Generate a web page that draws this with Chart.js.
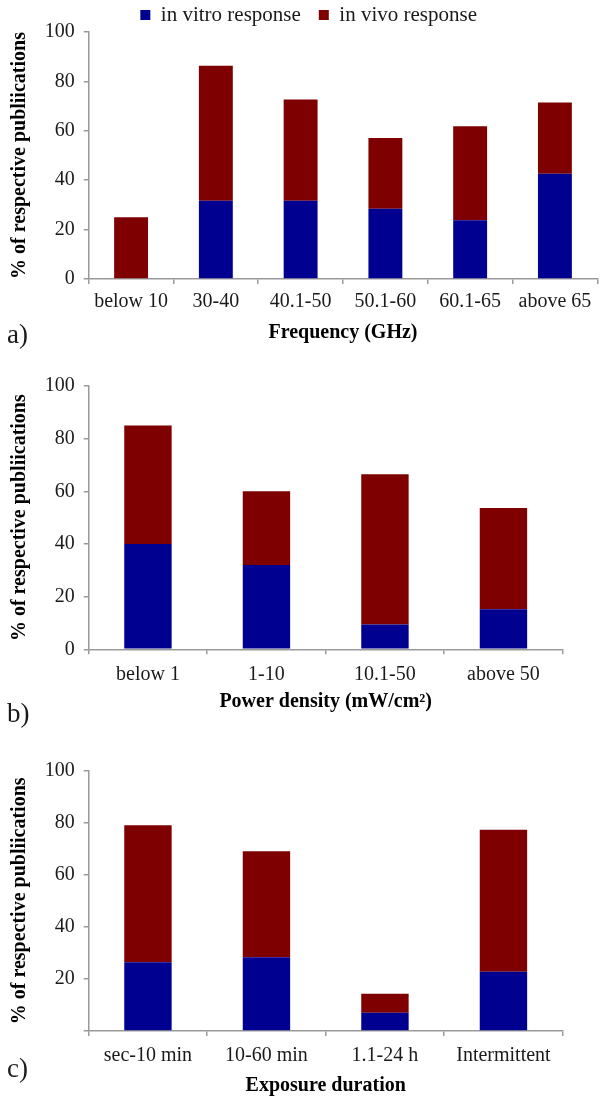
<!DOCTYPE html>
<html>
<head>
<meta charset="utf-8">
<script src="https://cdn.jsdelivr.net/npm/chart.js@4.4.1/dist/chart.umd.min.js"></script>
<style>
  html, body { margin: 0; padding: 0; background: #fff; }
  body { width: 600px; height: 1097px; position: relative; overflow: hidden; }
  canvas { position: absolute; left: 0; }
</style>
</head>
<body>
<canvas id="chartA" width="600" height="352" style="top:0px"></canvas>
<canvas id="chartB" width="600" height="380" style="top:352px"></canvas>
<canvas id="chartC" width="600" height="365" style="top:732px"></canvas>
<script>
// ---- data ----
const seriesNames = ['in vitro response', 'in vivo response'];
const yTitle = '% of respective publiications';

const categoriesA = ['below 10', '30-40', '40.1-50', '50.1-60', '60.1-65', 'above 65'];
const inVitroA = [0, 31.7, 31.7, 28.4, 23.8, 42.6];
const inVivoA  = [25, 54.6, 41.0, 28.7, 38.0, 28.9];
const xTitleA = 'Frequency (GHz)';

const categoriesB = ['below 1', '1-10', '10.1-50', 'above 50'];
const inVitroB = [40, 32, 9.4, 15.2];
const inVivoB  = [45, 28, 57.1, 38.5];
const xTitleB = 'Power density (mW/cm²)';

const categoriesC = ['sec-10 min', '10-60 min', '1.1-24 h', 'Intermittent'];
const inVitroC = [26.4, 28.3, 7.0, 22.8];
const inVivoC  = [52.6, 40.8, 7.3, 54.5];
const xTitleC = 'Exposure duration';

const yTicks = [0, 20, 40, 60, 80, 100];

// ---- styling ----
const FONT = '"Liberation Serif", "Times New Roman", serif';
const BLUE = '#000090';
const RED = '#7f0000';
const AXIS = '#9a9a9a';
const TXT = '#1a1a1a';
const LEFT_PAD = 20;

const panelLabel = {
  id: 'panelLabel',
  afterDraw(chart, args, opts) {
    const c = chart.ctx;
    c.save();
    c.font = '27px ' + FONT;
    c.fillStyle = TXT;
    c.textBaseline = 'middle';
    c.textAlign = 'left';
    c.fillText(opts.text, opts.x, opts.y);
    c.restore();
  }
};

const legendTrim = {
  id: 'legendTrim',
  beforeLayout(chart, args, opts) {
    const lg = chart.legend;
    if (lg && !lg._trimmed) {
      const f = lg.fit.bind(lg);
      lg.fit = function () { f(); this.height -= opts.trim || 0; };
      lg._trimmed = true;
    }
  }
};

function makeChart(id, cats, vitro, vivo, cfg) {
  return new Chart(document.getElementById(id), {
    type: 'bar',
    data: {
      labels: cats,
      datasets: [
        { label: seriesNames[0], data: vitro, backgroundColor: BLUE, borderWidth: 0, categoryPercentage: 1, barPercentage: 0.4 },
        { label: seriesNames[1], data: vivo, backgroundColor: RED, borderWidth: 0, categoryPercentage: 1, barPercentage: 0.4 }
      ]
    },
    options: {
      responsive: false,
      animation: false,
      devicePixelRatio: 1,
      layout: { padding: cfg.padding },
      plugins: {
        legend: cfg.legend ? {
          display: true,
          position: 'top',
          labels: {
            boxWidth: 10, boxHeight: 10, padding: 18,
            color: TXT, font: { family: FONT, size: 21 }
          }
        } : { display: false },
        tooltip: { enabled: false },
        panelLabel: cfg.panel,
        legendTrim: { trim: cfg.legend ? 3.5 : 0 }
      },
      scales: {
        x: {
          stacked: true,
          grid: { offset: true, drawOnChartArea: false, drawTicks: true, tickLength: 5, color: AXIS, lineWidth: 1.5 },
          border: { display: true, color: AXIS, width: 1.5 },
          ticks: { padding: cfg.xPad, color: TXT, font: { family: FONT, size: 20 }, maxRotation: 0, autoSkip: false },
          title: { display: true, text: cfg.xTitle, color: '#000', padding: 0, font: { family: FONT, size: 20, weight: 'bold', lineHeight: 1 } },
          afterFit: s => { s.height = cfg.xH; }
        },
        y: {
          stacked: true,
          min: 0, max: 100,
          afterBuildTicks: s => { s.ticks = yTicks.map(v => ({ value: v })); },
          grid: { drawOnChartArea: false, drawTicks: true, tickLength: 5, color: AXIS, lineWidth: 1.5 },
          border: { display: true, color: AXIS, width: 1.5 },
          ticks: {
            padding: 9, color: TXT, font: { family: FONT, size: 20 },
            callback: v => (cfg.hideZero && v === 0) ? '' : String(v)
          },
          title: { display: true, text: yTitle, color: '#000', padding: { top: 10 - LEFT_PAD, bottom: 0 }, font: { family: FONT, size: 20, weight: 'bold', lineHeight: 1 } },
          afterFit: s => { s.width = 88.7 - LEFT_PAD; }
        }
      }
    },
    plugins: [panelLabel, legendTrim]
  });
}

makeChart('chartA', categoriesA, inVitroA, inVivoA, {
  legend: true,
  padding: { top: -13.5, left: LEFT_PAD, right: 2.7, bottom: 9 },
  xH: 64, xPad: 6, xTitle: xTitleA,
  panel: { text: 'a)', x: 7, y: 336 }
});
makeChart('chartB', categoriesB, inVitroB, inVivoB, {
  legend: false,
  padding: { top: 34, left: LEFT_PAD, right: 37.3, bottom: 20 },
  xH: 62.7, xPad: 8.7, xTitle: xTitleB,
  panel: { text: 'b)', x: 7, y: 363 }
});
makeChart('chartC', categoriesC, inVitroC, inVivoC, {
  legend: false,
  hideZero: true,
  padding: { top: 38.7, left: LEFT_PAD, right: 37.3, bottom: 1.5 },
  xH: 64.5, xPad: 8, xTitle: xTitleC,
  panel: { text: 'c)', x: 7, y: 338 }
});
</script>
</body>
</html>
